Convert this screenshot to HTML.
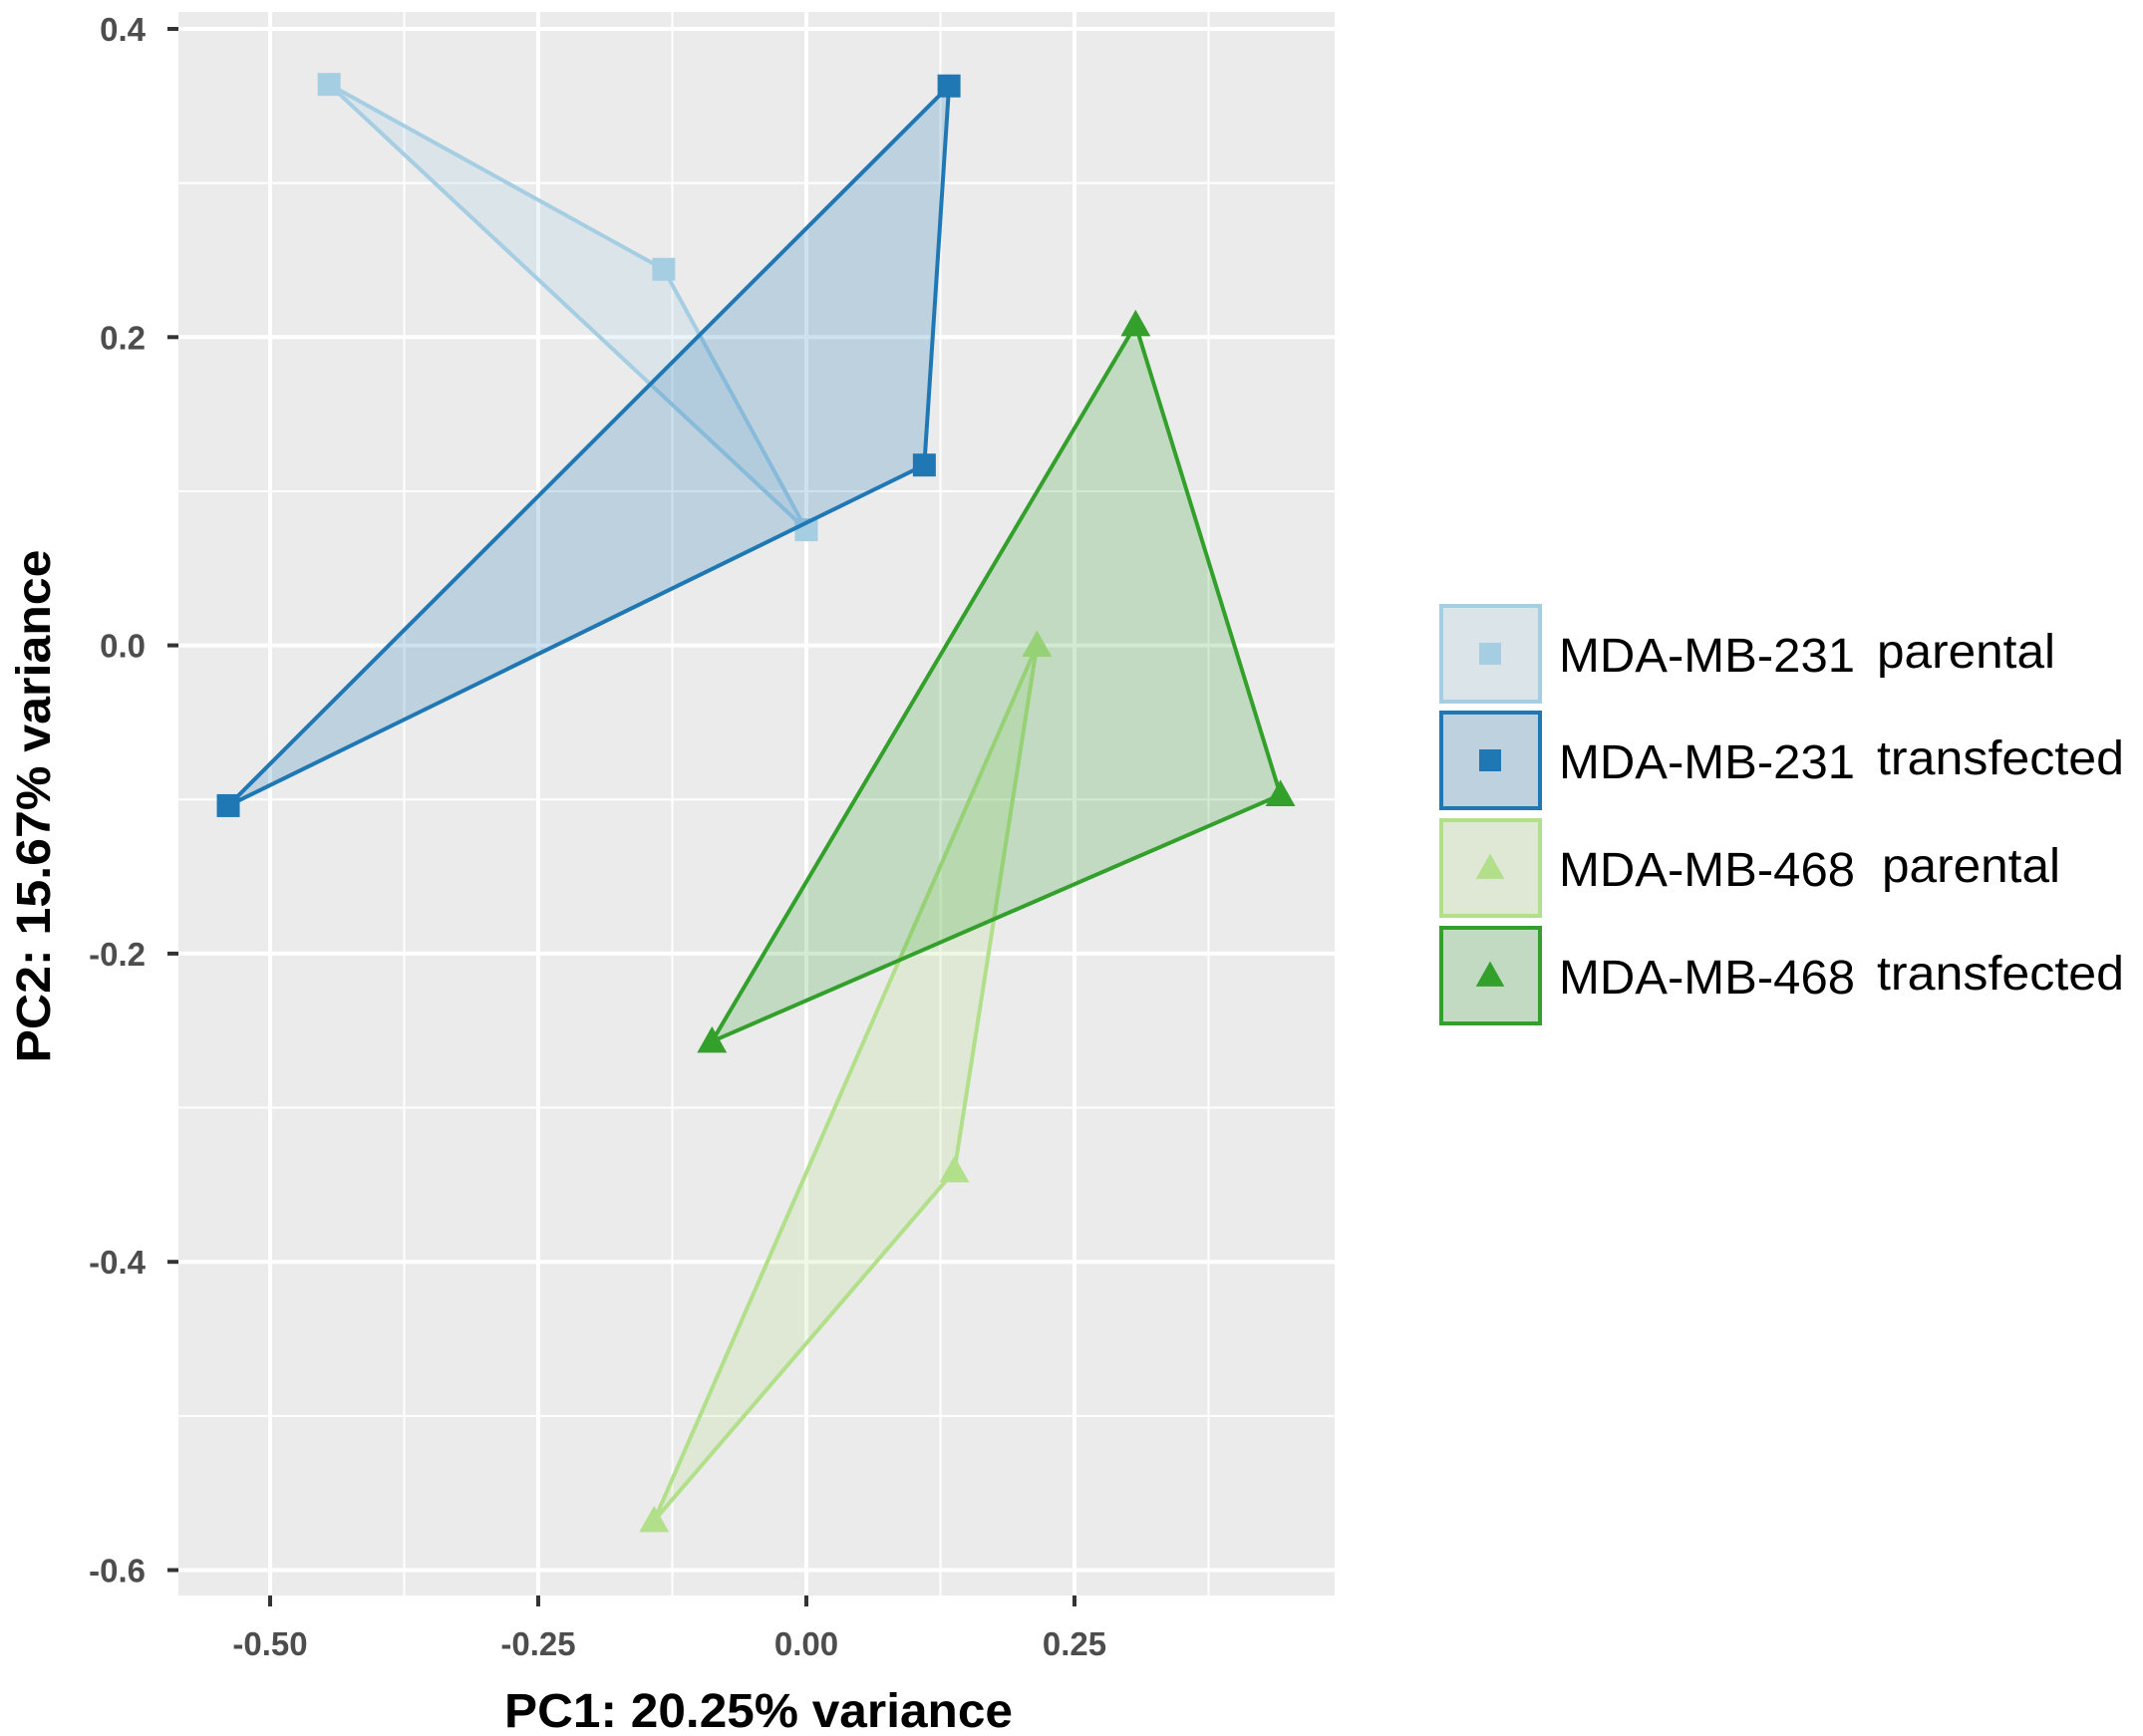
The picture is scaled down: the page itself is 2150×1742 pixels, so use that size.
<!DOCTYPE html>
<html><head><meta charset="utf-8"><style>
html,body{margin:0;padding:0;background:#fff;}
svg{display:block;font-family:"Liberation Sans",sans-serif;}
</style></head><body>
<svg id="chart" width="2150" height="1742" xmlns="http://www.w3.org/2000/svg">
<rect x="179" y="12" width="1160" height="1589" fill="#ebebeb"/>
<g id="grid"></g><g id="groups"></g><g id="axes"></g>
<text x="761" y="1733" font-size="48" font-weight="bold" text-anchor="middle" textLength="510" lengthAdjust="spacingAndGlyphs" fill="#000">PC1: 20.25% variance</text>
<text transform="translate(50,809) rotate(-90)" font-size="48" font-weight="bold" text-anchor="middle" textLength="515" lengthAdjust="spacingAndGlyphs" fill="#000">PC2: 15.67% variance</text>
<g id="legend" transform="translate(-7,-4)"></g>
</svg>
<script>
const xTicks=[-0.5,-0.25,0,0.25];
const xTickLabels=["-0.50","-0.25","0.00","0.25"];
const yTicks=[0.4,0.2,0,-0.2,-0.4,-0.6];
const yTickLabels=["0.4","0.2","0.0","-0.2","-0.4","-0.6"];
const groupNames=["MDA-MB-231 parental","MDA-MB-231 transfected","MDA-MB-468 parental","MDA-MB-468 transfected"];
const cellLines=["MDA-MB-231","MDA-MB-231","MDA-MB-468","MDA-MB-468"];
const conditions=["parental","transfected","parental","transfected"];
const colors=["#a6cee3","#1f78b4","#b2df8a","#33a02c"];
const shapes=["square","square","triangle","triangle"];
const pc1_231p=[-0.445,-0.133,0.0];
const pc2_231p=[0.364,0.244,0.075];
const pc1_231t=[0.133,0.110,-0.539];
const pc2_231t=[0.363,0.117,-0.104];
const pc1_468p=[0.215,0.138,-0.142];
const pc2_468p=[0.0,-0.341,-0.568];
const pc1_468t=[0.307,0.442,-0.088];
const pc2_468t=[0.208,-0.097,-0.257];
const groupX=[pc1_231p,pc1_231t,pc1_468p,pc1_468t];
const groupY=[pc2_231p,pc2_231t,pc2_468p,pc2_468t];

const NS="http://www.w3.org/2000/svg";
const X=v=>809+v*1076;
function yS(v){return 29+(0.4-v)*1546.5;}
function mk(t,a,p){const e=document.createElementNS(NS,t);for(const k in a)e.setAttribute(k,a[k]);p.appendChild(e);return e;}
const grid=document.getElementById('grid'),axes=document.getElementById('axes');
[-0.375,-0.125,0.125,0.375].forEach(v=>{const l=mk('line',{x1:X(v),x2:X(v),y1:12,y2:1601,stroke:'#fff','stroke-width':2},grid);

});
[0.3,0.1,-0.1,-0.3,-0.5].forEach(v=>{const l=mk('line',{x1:179,x2:1339,y1:yS(v),y2:yS(v),stroke:'#fff','stroke-width':2},grid);

});
xTicks.forEach((v,i)=>{const l=mk('line',{x1:X(v),x2:X(v),y1:12,y2:1601,stroke:'#fff','stroke-width':4},grid);


const t=mk('line',{x1:X(v),x2:X(v),y1:1601,y2:1612,stroke:'#333','stroke-width':4},axes);


const tx=mk('text',{x:X(v),y:1661,'font-size':33,'font-weight':'bold','text-anchor':'middle',fill:'#4d4d4d'},axes);tx.textContent=xTickLabels[i];

});
yTicks.forEach((v,i)=>{const l=mk('line',{x1:179,x2:1339,y1:yS(v),y2:yS(v),stroke:'#fff','stroke-width':4},grid);


const t=mk('line',{x1:168,x2:179,y1:yS(v),y2:yS(v),stroke:'#333','stroke-width':4},axes);


const tx=mk('text',{x:146,y:yS(v)+12,'font-size':33,'font-weight':'bold','text-anchor':'end',fill:'#4d4d4d'},axes);tx.textContent=yTickLabels[i];

});
function marker(shape,cx,cy,s,col,p){
 if(shape==='square')return mk('rect',{x:cx-s/2,y:cy-s/2,width:s,height:s,fill:col},p);
 const h=s*1.1;return mk('polygon',{points:`${cx},${cy-h*0.6} ${cx-s*0.65},${cy+h*0.45} ${cx+s*0.65},${cy+h*0.45}`,fill:col},p);
}
const groups=document.getElementById('groups');
groupX.forEach((xs,g)=>{
 const gg=mk('g',{},groups);
 
 
 const pts=xs.map((x,i)=>X(x)+','+yS(groupY[g][i])).join(' ');
 const poly=mk('polygon',{points:pts,fill:colors[g],'fill-opacity':0.22,stroke:colors[g],'stroke-width':4,'stroke-linejoin':'round'},gg);
 
 
 xs.forEach((x,i)=>{const m=marker(shapes[g],X(x),yS(groupY[g][i]),23,colors[g],gg);
 
 });
});
const leg=document.getElementById('legend');
const rowY=[610,717,825,933];
const condX=[1890,1890,1895,1890];
const condW=[179,248,179,248];
groupNames.forEach((n,g)=>{
 const gg=mk('g',{},leg);
 
 
 mk('rect',{x:1453,y:rowY[g]+2,width:99,height:96,fill:'#ebebeb',stroke:'none'},gg);
 mk('rect',{x:1453,y:rowY[g]+2,width:99,height:96,fill:colors[g],'fill-opacity':0.22,stroke:colors[g],'stroke-width':4},gg);
 marker(shapes[g],1502,rowY[g]+50,22,colors[g],gg);
 const t1=mk('text',{x:1571,y:rowY[g]+68,'font-size':48,fill:'#000',textLength:297,lengthAdjust:'spacingAndGlyphs'},gg);t1.textContent=cellLines[g];
 const t2=mk('text',{x:condX[g],y:rowY[g]+64,'font-size':48,fill:'#000',textLength:condW[g],lengthAdjust:'spacingAndGlyphs'},gg);t2.textContent=conditions[g];
});
</script>
</body></html>
